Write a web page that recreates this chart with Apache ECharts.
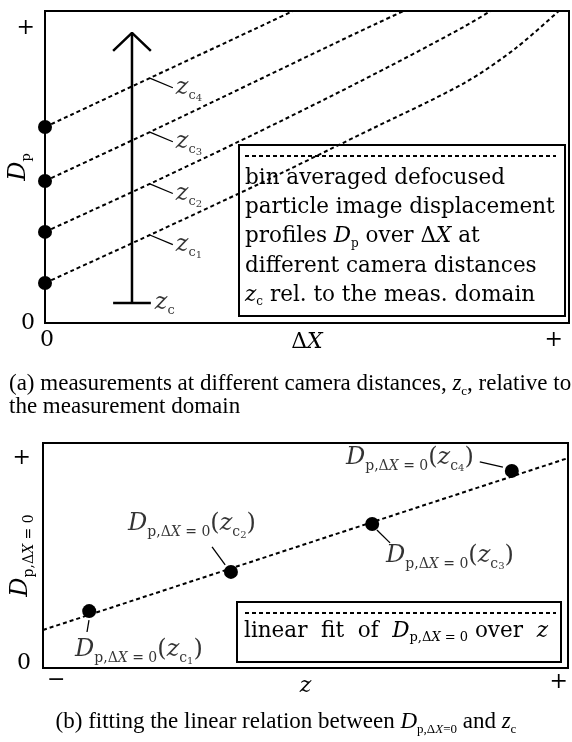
<!DOCTYPE html>
<html>
<head>
<meta charset="utf-8">
<script src="https://cdn.jsdelivr.net/npm/echarts@6/dist/echarts.min.js"></script>
<style>
  html, body { margin: 0; padding: 0; background: #fff; }
  #chart { width: 572px; height: 742px; }
</style>
</head>
<body>
<div id="chart"></div>
<script>
// ---- data, panel (a): D_p over ΔX for four camera distances (arbitrary units 0..100)
const profileDX = [0, 20, 40, 60, 80, 90, 100]
const dpZc1 = [12.8, 28.2, 43.9, 60.3, 76.9, 88.3, 103.0]
const dpZc2 = [29.2, 44.6, 60.6, 77.3, 95.0, 105.1, null]
const dpZc3 = [45.5, 61.2, 77.3, 93.4, 109, null, null]
const dpZc4 = [62.8, 78.5, 94.2, 110, null, null, null]
const camIds = ['1', '2', '3', '4']
const xTicksA = ['0', '+']
const yTicksA = ['0', '+']

// ---- data, panel (b): D_p at ΔX = 0 over z, with linear fit
const zPos = [8.8, 35.8, 62.7, 89.3]
const dpZero = [25.3, 42.7, 64.0, 87.6]
const fitZ = [0, 100]
const fitDp = [16.9, 93.3]
const xTicksB = ['−', '+']
const yTicksB = ['0', '+']

// ---- annotation geometry (data units)
const leadA = [20, 24.4, -3.1]          // start x, end x, drop in y
const arrowX = 16.6, arrowLo = 6.4, arrowHi = 93, arrowHalf = 3.6, headDrop = 5.8
const leadB = [
  [[8.76, 21.3], [8.38, 16.0]],
  [[34.7, 45.8], [32.2, 53.8]],
  [[63.6, 61.3], [66.1, 55.6]],
  [[87.6, 89.3], [83.2, 91.6]],
]
const labPosB = [[-12, 3, 'left', 'top'], [-84, -8, 'left', 'bottom'], [-4, -2, 'left', 'top'], [-6, -19, 'right', 'top']]

const serif = 'DejaVu Serif'
const times = 'Liberation Serif'

function mathRich(size, lh, font, subScale) {
  const b = { fontFamily: font || serif, color: '#000', lineHeight: lh, verticalAlign: 'middle' }
  const s1 = Math.round(size * (subScale || 0.56)), s2 = Math.round(size * 0.42)
  const d1 = Math.round(size * 0.34), d2 = Math.round(size * 0.46)
  return {
    t: { ...b, fontSize: size },
    i: { ...b, fontSize: size, fontStyle: 'italic' },
    s: { ...b, fontSize: s1, padding: [2 * d1, 0, 0, 0] },
    si: { ...b, fontSize: s1, fontStyle: 'italic', padding: [2 * d1, 0, 0, 0] },
    ss: { ...b, fontSize: s2, padding: [2 * d2, 0, 0, 0] },
  }
}

const zc = (k) => `{i|z}{s|c}{ss|${k}}`
const dp0 = '{i|D}{s|p,Δ}{si|X}{s| = 0}'

const dash = { color: '#000', width: 2, type: [4, 3] }
const solid = (w) => ({ color: '#000', width: w, type: 'solid' })
const dot = { color: '#000', opacity: 1 }

function seg(pts, w, xi) {
  return {
    type: 'line', xAxisIndex: xi, yAxisIndex: xi, data: pts, showSymbol: false,
    lineStyle: solid(w), silent: true, z: 3,
  }
}

function valueAxis(grid, ticks, extra) {
  return Object.assign({
    gridIndex: grid, type: 'value', min: 0, max: 100, interval: 100,
    axisLine: { lineStyle: { color: '#000', width: 2 } },
    axisTick: { show: false }, splitLine: { show: false },
    nameMoveOverlap: false,
  }, extra, {
    axisLabel: Object.assign({
      formatter: (v) => (v === 0 ? `{lo|${ticks[0]}}` : `{hi|${ticks[1]}}`),
      fontFamily: serif, fontSize: 22, color: '#000',
    }, extra.axisLabel),
  })
}

const tickRich = (hiPad, loPad) => ({
  hi: { fontFamily: serif, fontSize: 22, color: '#000', padding: hiPad },
  lo: { fontFamily: serif, fontSize: 22, color: '#000', padding: loPad },
})

const series = []

// panel (a) profiles
;[dpZc1, dpZc2, dpZc3, dpZc4].forEach((arr) => {
  series.push({
    type: 'line', xAxisIndex: 0, yAxisIndex: 0, smooth: 0.3, showSymbol: false,
    data: profileDX.map((x, i) => [x, arr[i]]), lineStyle: dash, silent: true,
  })
})
series.push({
  type: 'scatter', xAxisIndex: 0, yAxisIndex: 0, symbolSize: 14,
  itemStyle: dot, silent: true, z: 4,
  data: [dpZc1, dpZc2, dpZc3, dpZc4].map((a) => [profileDX[0], a[0]]),
})
// leaders and z_c labels on each profile
;[dpZc1, dpZc2, dpZc3, dpZc4].forEach((arr, k) => {
  const y0 = arr[profileDX.indexOf(leadA[0])]
  series.push(seg([[leadA[0], y0], [leadA[1], y0 + leadA[2]]], 1.3, 0))
  series.push({
    type: 'scatter', xAxisIndex: 0, yAxisIndex: 0, symbolSize: 0, silent: true,
    data: [[leadA[1], y0 + leadA[2]]],
    label: { show: true, position: 'right', distance: 3, formatter: zc(camIds[k]), rich: mathRich(24, 26) },
  })
})
// z_c arrow
series.push(seg([[arrowX, arrowLo], [arrowX, arrowHi]], 2.5, 0))
series.push(seg([[arrowX - arrowHalf, arrowLo], [arrowX + arrowHalf, arrowLo]], 2.5, 0))
series.push(seg([[arrowX - arrowHalf, arrowHi - headDrop], [arrowX, arrowHi], [arrowX + arrowHalf, arrowHi - headDrop]], 2.5, 0))
series.push({
  type: 'scatter', xAxisIndex: 0, yAxisIndex: 0, symbolSize: 0, silent: true,
  data: [[arrowX + arrowHalf, arrowLo]],
  label: { show: true, position: 'right', distance: 4, formatter: '{i|z}{s|c}', rich: mathRich(24, 26) },
})

// panel (b)
series.push({
  type: 'line', xAxisIndex: 1, yAxisIndex: 1, showSymbol: false, silent: true,
  data: fitZ.map((x, i) => [x, fitDp[i]]), lineStyle: dash,
})
series.push({
  type: 'scatter', xAxisIndex: 1, yAxisIndex: 1, symbolSize: 14, silent: true, z: 4,
  itemStyle: dot, data: zPos.map((x, i) => [x, dpZero[i]]),
})
leadB.forEach((pts, k) => {
  series.push(seg(pts, 1.3, 1))
  const p = labPosB[k]
  series.push({
    type: 'scatter', xAxisIndex: 1, yAxisIndex: 1, symbolSize: 0, silent: true,
    data: [pts[1]],
    label: {
      show: true, position: [p[0], p[1]], align: p[2], verticalAlign: p[3],
      formatter: `${dp0}{t|(}${zc(camIds[k])}{t|)}`, rich: mathRich(24, 30, serif, 0.6),
    },
  })
})

const legendA = [
  '{t|bin averaged defocused}',
  '{t|particle image displacement}',
  '{t|profiles }{i|D}{s|p}{t| over Δ}{i|X}{t| at}',
  '{t|different camera distances}',
  '{i|z}{s|c}{t| rel. to the meas. domain}',
].join('\n')

const option = {
  animation: false,
  backgroundColor: '#fff',
  title: [
    {
      left: 4, top: 367,
      text: '(a) measurements at different camera distances, {i|z}{s|c}, relative to\nthe measurement domain',
      textStyle: { fontFamily: times, fontSize: 23, fontWeight: 'normal', color: '#000', lineHeight: 23, rich: mathRich(23, 23, times) },
    },
    {
      left: 'center', top: 704,
      text: '(b) fitting the linear relation between {i|D}{s|p,Δ}{si|X}{s|=0} and {i|z}{s|c}',
      textStyle: { fontFamily: times, fontSize: 23, fontWeight: 'normal', color: '#000', lineHeight: 26, rich: mathRich(23, 26, times) },
    },
  ],
  grid: [
    { left: 45, top: 11, width: 524, height: 312, show: true, borderColor: '#000', borderWidth: 2, containLabel: false, outerBoundsMode: 'none' },
    { left: 43, top: 443, width: 525, height: 225, show: true, borderColor: '#000', borderWidth: 2, containLabel: false, outerBoundsMode: 'none' },
  ],
  xAxis: [
    valueAxis(0, xTicksA, {
      name: '{t|Δ}{i|X}', nameLocation: 'middle', nameGap: 6,
      nameTextStyle: { rich: mathRich(22, 26) },
      axisLabel: { margin: 6, alignMaxLabel: 'right', rich: tickRich([0, 6, 0, 0], [0, 0, 0, 4]) },
    }),
    valueAxis(1, xTicksB, {
      name: '{i|z}', nameLocation: 'middle', nameGap: 5,
      nameTextStyle: { rich: mathRich(22, 26) },
      axisLabel: { margin: 1, alignMaxLabel: 'right', alignMinLabel: 'left', rich: tickRich([2, 0, 0, 0], [0, 0, 0, 4]) },
    }),
  ],
  yAxis: [
    valueAxis(0, yTicksA, {
      name: '{i|D}{s|p}', nameLocation: 'middle', nameGap: 12, nameRotate: 90,
      nameTextStyle: { rich: mathRich(24, 28) },
      axisLabel: { margin: 10, verticalAlignMaxLabel: 'top', rich: tickRich([6, 0, 0, 0], [0, 0, 0, 0]) },
    }),
    valueAxis(1, yTicksB, {
      name: dp0, nameLocation: 'middle', nameGap: 8, nameRotate: 90,
      nameTextStyle: { rich: mathRich(24, 28, serif, 0.6) },
      axisLabel: { margin: 12, verticalAlignMaxLabel: 'top', rich: tickRich([4, 0, 0, 0], [0, 0, 10, 0]) },
    }),
  ],
  series,
  graphic: [
    {
      type: 'group', z: 100, children: [
        { type: 'rect', shape: { x: 239, y: 145, width: 326, height: 171 }, style: { fill: '#fff', stroke: '#000', lineWidth: 2 } },
        { type: 'line', shape: { x1: 245, y1: 156, x2: 556, y2: 156 }, style: { stroke: '#000', lineWidth: 2, lineDash: [4, 3] } },
        { type: 'text', x: 245, y: 163.5, style: { text: legendA, rich: mathRich(21.5, 29.3), fill: '#000' } },
        { type: 'rect', shape: { x: 237, y: 602, width: 324, height: 60 }, style: { fill: '#fff', stroke: '#000', lineWidth: 2 } },
        { type: 'line', shape: { x1: 245, y1: 613, x2: 556, y2: 613 }, style: { stroke: '#000', lineWidth: 2, lineDash: [4, 3] } },
        {
          type: 'text', x: 244, y: 616,
          style: { text: '{t|linear  fit  of  }' + dp0 + '{t| over  }{i|z}', rich: mathRich(21.5, 30, serif, 0.62), fill: '#000' },
        },
      ],
    },
  ],
}

const chart = echarts.init(document.getElementById('chart'), null, { renderer: 'canvas' })
chart.setOption(option)
window.addEventListener('resize', () => chart.resize())
</script>
</body>
</html>
